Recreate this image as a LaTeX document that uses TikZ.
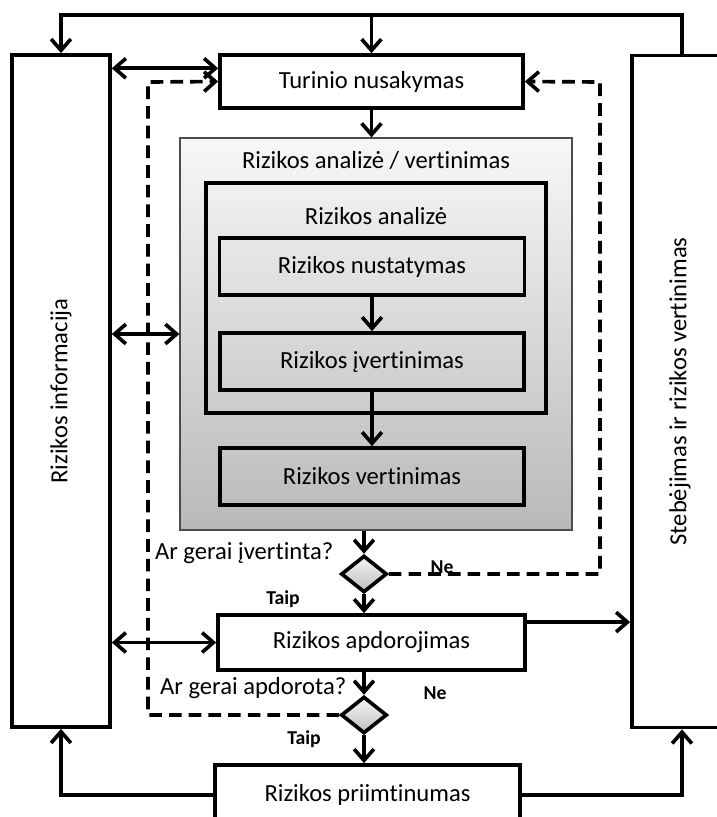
\documentclass[tikz,border=0pt]{standalone}
\usepackage{fontspec}
\setmainfont{Carlito}[Ligatures=NoCommon]
\usetikzlibrary{arrows.meta,positioning,shapes.geometric}

\tikzset{
  blk/.style={draw,line width=2.6pt,inner sep=0pt,font=\fontsize{17.5}{20}\selectfont},
  dec/.style={draw,diamond,line width=2.6pt,inner sep=0pt,top color=gray!8,bottom color=gray!50,minimum width=1.15cm,minimum height=0.92cm},
  txt/.style={inner sep=0pt,font=\fontsize{17.5}{20}\selectfont},
  ans/.style={inner sep=0pt,font=\bfseries\fontsize{14}{16}\selectfont},
  loopline/.style={dash pattern=on 9pt off 5pt}
}

\begin{document}
\begin{tikzpicture}[x=0.025cm,y=-0.025cm,>={Straight Barb[length=8pt,width=14pt]},line width=2.6pt]
\useasboundingbox (0,0) rectangle (717,817);
\node[draw=gray!60!black,line width=0.8pt,top color=gray!6,bottom color=gray!55,minimum width=9.8cm,minimum height=9.8cm] (analize) at (376,334) {};
\node[txt] (analizetitle) at (376,160) {Rizikos analizė / vertinimas};
\node[blk,minimum width=8.5cm,minimum height=5.75cm] (frame) at (376,298) {};
\node[txt] (frametitle) at (376,216) {Rizikos analizė};
\node[blk,minimum width=7.625cm,minimum height=1.425cm] (nustatymas) at (372,266.5) {Rizikos nustatymas};
\node[blk,minimum width=7.6cm,minimum height=1.425cm] (ivertinimas) at (372,361.5) {Rizikos įvertinimas};
\node[blk,minimum width=7.6cm,minimum height=1.425cm] (vertinimas) at (372,476.5) {Rizikos vertinimas};
\node[blk,minimum width=7.575cm,minimum height=1.325cm] (turinys) at (371.5,81.5) {Turinio nusakymas};
\node[blk,minimum width=2.45cm,minimum height=16.8cm] (info) at (61,391) {};
\node[txt,rotate=90] (infotxt) at (info) {Rizikos informacija};
\node[blk,minimum width=2.5cm,minimum height=16.8cm] (steb) at (682,391.5) {};
\node[txt,rotate=90] (stebtxt) at (680,391.5) {Stebėjimas ir rizikos vertinimas};
\node[dec] (d1) at (364,574) {};
\node[blk,minimum width=7.675cm,minimum height=1.375cm] (apdor) at (371.5,642.5) {Rizikos apdorojimas};
\node[dec] (d2) at (364,715) {};
\node[blk,minimum width=7.625cm,minimum height=1.5cm] (priim) at (367.5,795) {Rizikos priimtinumas};
\node[txt,anchor=east] (q1) at (335,553) {Ar gerai įvertinta?};
\node[ans] (ne1) at (442,567) {Ne};
\node[ans] (taip1) at (283,599) {Taip};
\node[txt,anchor=east] (q2) at (348,688) {Ar gerai apdorota?};
\node[ans] (ne2) at (435,693) {Ne};
\node[ans] (taip2) at (304,739) {Taip};
\coordinate (top) at (370,15);
\coordinate (dl) at (148,82);
\coordinate (dr) at (600,82);
\draw[->] (steb.north) |- (info.north |- top) -- (info.north);
\draw[->] (turinys.north |- top) -- (turinys.north);
\draw[->] (turinys.south) -- (turinys.south |- analize.north);
\draw[->] (nustatymas.south) -- (ivertinimas.north);
\draw[->] (ivertinimas.south) -- (vertinimas.north);
\draw[->] (analize.south -| d1.north) -- (d1.north);
\draw[->] (d1.south) -- (d1.south |- apdor.north);
\draw[->] (apdor.south -| d2.north) -- (d2.north);
\draw[->] (d2.south) -- (d2.south |- priim.north);
\draw[<->] ([yshift=0.33cm]turinys.west) -- ([yshift=0.33cm]turinys.west -| info.east);
\draw[<->] (analize.west) -- (analize.west -| info.east);
\draw[<->] (apdor.west) -- (apdor.west -| info.east);
\draw[->] ([yshift=0.51cm]apdor.east) -- ([yshift=0.51cm]apdor.east -| steb.west);
\draw[loopline,->] (d2.west) -| (dl) -- (turinys.west);
\draw[loopline,->] (d1.east) -| (dr) -- (turinys.east);
\draw[->] (priim.west) -| (info.south);
\draw[->] (priim.east) -| (steb.south);
\end{tikzpicture}
\end{document}
